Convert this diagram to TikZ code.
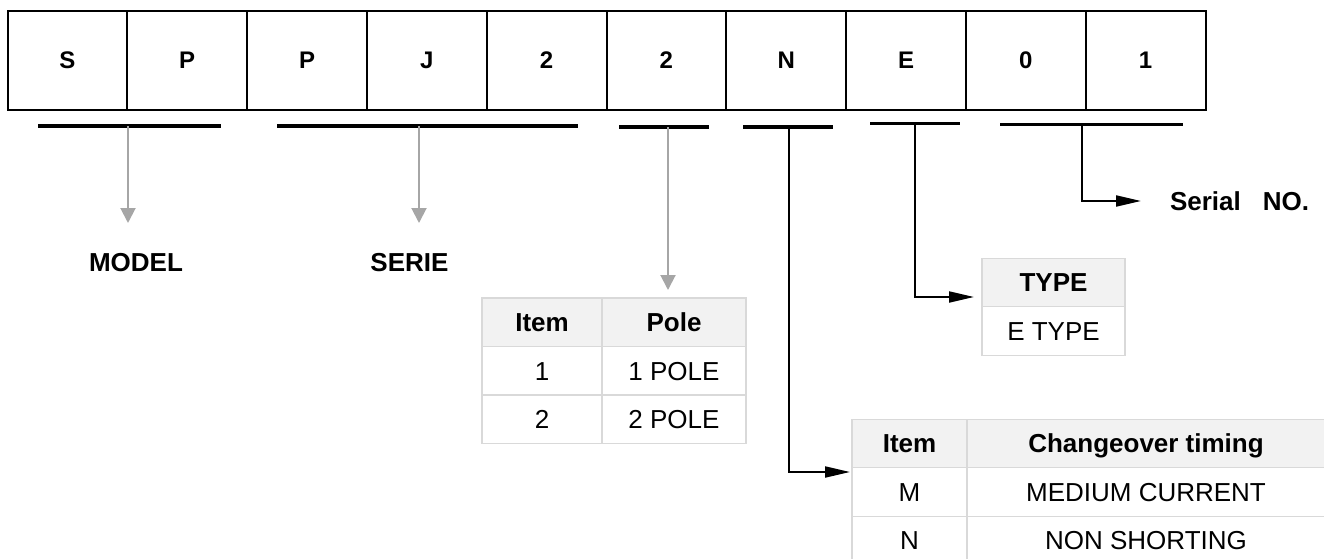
\documentclass[tikz,border=0pt]{standalone}
\usepackage{fontspec}
\setmainfont{Liberation Sans}
\usetikzlibrary{arrows.meta}
\definecolor{arrowgray}{HTML}{A6A6A6}
\definecolor{gridgray}{HTML}{D9D9D9}
\definecolor{headgray}{HTML}{F2F2F2}

\begin{document}
\begin{tikzpicture}[x=1pt,y=-1pt,
  every node/.style={outer sep=0pt, inner sep=0pt},
  letterbox/.style={draw, line width=2pt, minimum width=119.8pt, minimum height=99pt, font=\fontsize{24}{28}\selectfont\bfseries},
  bar/.style={line width=3.7pt},
  greyarrow/.style={draw=arrowgray, line width=2pt, -{Triangle[length=15pt,width=15pt]}},
  blackarrow/.style={line width=2pt, -{Triangle[length=25pt,width=11pt]}},
  tag/.style={font=\fontsize{26}{30}\selectfont\bfseries},
  headcell/.style={draw=gridgray, line width=1.3pt, fill=headgray, minimum height=48.5pt, text height=18.6pt, text depth=0pt, font=\fontsize{26}{30}\selectfont\bfseries},
  bodycell/.style={draw=gridgray, line width=1.3pt, fill=white, minimum height=48.5pt, text height=18.6pt, text depth=0pt, font=\fontsize{26}{30}\selectfont}]
\clip (0,0) rectangle (1324,559);

\node[letterbox] (c1) at (67.4,60.5) {S};
\node[letterbox] (c2) at (187.2,60.5) {P};
\node[letterbox] (c3) at (307.0,60.5) {P};
\node[letterbox] (c4) at (426.8,60.5) {J};
\node[letterbox] (c5) at (546.6,60.5) {2};
\node[letterbox] (c6) at (666.4,60.5) {2};
\node[letterbox] (c7) at (786.2,60.5) {N};
\node[letterbox] (c8) at (906.0,60.5) {E};
\node[letterbox] (c9) at (1025.8,60.5) {0};
\node[letterbox] (c10) at (1145.6,60.5) {1};

\draw[bar] (38,126) -- (221,126);
\draw[bar] (277,126) -- (578,126);
\draw[bar] (619,127) -- (709,127);
\draw[bar] (743,127) -- (833,127);
\draw[bar] (870,123.5) -- (960,123.5);
\draw[bar] (1000,124.5) -- (1183,124.5);

\coordinate (modelbar) at (128,126);
\coordinate (seriebar) at (419,126);
\coordinate (polebar) at (668,127);
\coordinate (timingbar) at (789,127);
\coordinate (typebar) at (915,123.5);
\coordinate (serialbar) at (1082,124.5);
\coordinate (modeltip) at (128,223);
\coordinate (serietip) at (419,223);
\coordinate (poletip) at (668,290);
\coordinate (timingtip) at (850,472);
\coordinate (typetip) at (974,297);
\coordinate (serialtip) at (1141,201);

\node[tag] (model) at (136,263) {MODEL};
\node[tag] (serie) at (409.5,263) {SERIE};
\node[tag, anchor=west] (serial) at (1170,201) {Serial\hspace{0.85em}NO.};

\node[headcell, minimum width=120pt] (poleitem) at (542,322.25) {Item};
\node[headcell, minimum width=144pt] (polehead) at (674,322.25) {Pole};
\node[bodycell, minimum width=120pt] (pole1) at (542,370.75) {1};
\node[bodycell, minimum width=144pt] (pole1txt) at (674,370.75) {1 POLE};
\node[bodycell, minimum width=120pt] (pole2) at (542,419.25) {2};
\node[bodycell, minimum width=144pt] (pole2txt) at (674,419.25) {2 POLE};

\node[headcell, minimum width=143pt] (typehead) at (1053.5,282.5) {TYPE};
\node[bodycell, minimum width=143pt] (typee) at (1053.5,331) {E TYPE};

\node[headcell, minimum width=115pt] (timingitem) at (909.5,443.5) {Item};
\node[headcell, minimum width=358pt] (timinghead) at (1146,443.5) {Changeover timing};
\node[bodycell, minimum width=115pt] (timingm) at (909.5,492) {M};
\node[bodycell, minimum width=358pt] (timingmtxt) at (1146,492) {MEDIUM CURRENT};
\node[bodycell, minimum width=115pt] (timingn) at (909.5,540.5) {N};
\node[bodycell, minimum width=358pt] (timingntxt) at (1146,540.5) {NON SHORTING};

\draw[greyarrow] (modelbar) -- (modeltip);
\draw[greyarrow] (seriebar) -- (serietip);
\draw[greyarrow] (polebar) -- (poletip);
\draw[blackarrow] (timingbar) |- (timingtip);
\draw[blackarrow] (typebar) |- (typetip);
\draw[blackarrow] (serialbar) |- (serialtip);
\end{tikzpicture}
\end{document}
